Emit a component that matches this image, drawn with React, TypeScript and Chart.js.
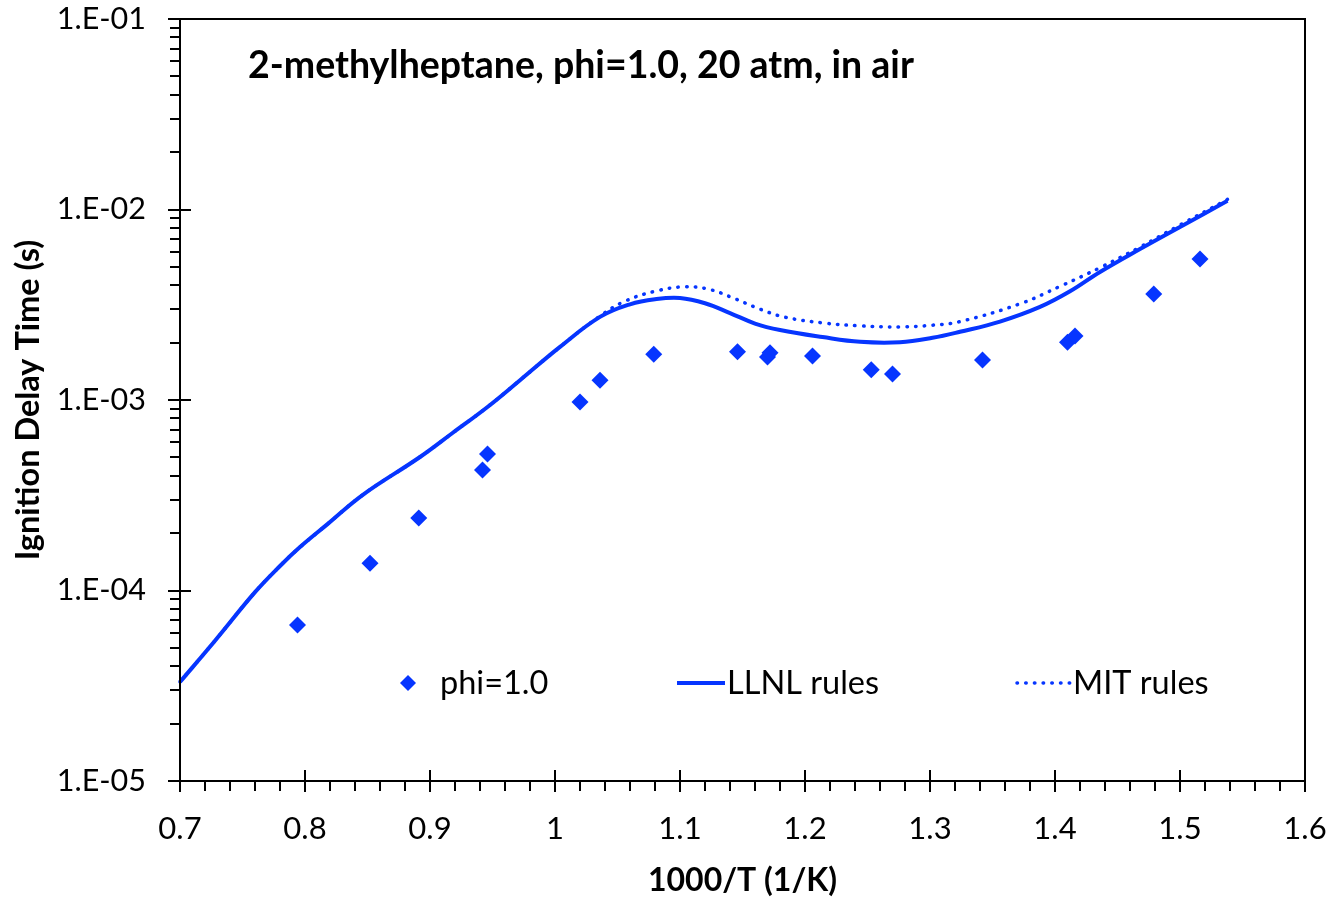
import React, { useEffect, useRef } from 'react';
import { Chart, registerables } from 'chart.js';

Chart.register(...registerables);

// ---------- data ----------
const chartTitle = '2-methylheptane, phi=1.0, 20 atm, in air';
const xAxisTitle = '1000/T (1/K)';
const yAxisTitle = 'Ignition Delay Time (s)';

const expLabel = 'phi=1.0';
const expX = [0.794, 0.852, 0.891, 0.942, 0.946, 1.020, 1.036, 1.079, 1.146, 1.170, 1.172, 1.206, 1.253, 1.270, 1.342, 1.410, 1.416, 1.479, 1.516];
const expY = [6.6e-5, 1.39e-4, 2.40e-4, 4.29e-4, 5.21e-4, 9.77e-4, 1.27e-3, 1.74e-3, 1.79e-3, 1.68e-3, 1.77e-3, 1.70e-3, 1.44e-3, 1.37e-3, 1.62e-3, 2.01e-3, 2.17e-3, 3.60e-3, 5.50e-3];

const llnlLabel = 'LLNL rules';
const llnlX = [0.700, 0.728, 0.760, 0.780, 0.796, 0.818, 0.846, 0.892, 0.918, 0.946, 0.972, 1.004, 1.036, 1.060, 1.080, 1.100, 1.120, 1.140, 1.160, 1.180, 1.214, 1.244, 1.276, 1.302, 1.324, 1.356, 1.388, 1.412, 1.436, 1.468, 1.500, 1.538];
const llnlY = [3.31e-5, 5.45e-5, 9.8e-5, 1.345e-4, 1.69e-4, 2.23e-4, 3.17e-4, 5.02e-4, 6.71e-4, 9.19e-4, 1.27e-3, 1.90e-3, 2.73e-3, 3.18e-3, 3.38e-3, 3.43e-3, 3.22e-3, 2.86e-3, 2.52e-3, 2.33e-3, 2.14e-3, 2.02e-3, 2.01e-3, 2.12e-3, 2.28e-3, 2.58e-3, 3.08e-3, 3.72e-3, 4.70e-3, 6.20e-3, 8.10e-3, 1.11e-2];

const mitLabel = 'MIT rules';
const mitX = [0.700, 0.728, 0.760, 0.780, 0.796, 0.818, 0.846, 0.892, 0.918, 0.946, 0.972, 1.004, 1.036, 1.056, 1.080, 1.104, 1.124, 1.144, 1.164, 1.184, 1.214, 1.244, 1.276, 1.302, 1.324, 1.372, 1.404, 1.436, 1.468, 1.500, 1.538];
const mitY = [3.31e-5, 5.45e-5, 9.8e-5, 1.345e-4, 1.69e-4, 2.23e-4, 3.17e-4, 5.02e-4, 6.71e-4, 9.19e-4, 1.27e-3, 1.90e-3, 2.76e-3, 3.30e-3, 3.72e-3, 3.93e-3, 3.80e-3, 3.40e-3, 3.00e-3, 2.72e-3, 2.54e-3, 2.45e-3, 2.42e-3, 2.47e-3, 2.58e-3, 3.20e-3, 3.95e-3, 4.95e-3, 6.35e-3, 8.29e-3, 1.13e-2];

const xTickValues = [0.7, 0.8, 0.9, 1.0, 1.1, 1.2, 1.3, 1.4, 1.5, 1.6];
const xMinorStep = 0.02;
const yTickValues = [1e-5, 1e-4, 1e-3, 1e-2, 1e-1];
const yMinorMultipliers = [2, 3, 4, 5, 6, 7, 8, 9];

// ---------- style ----------
const BLUE = '#0635FF';
const FONT = "Lato, 'Open Sans', sans-serif";

const toPts = (xs: number[], ys: number[]) => xs.map((x, i) => ({ x, y: ys[i] }));

const decorPlugin = {
  id: 'decor',
  afterDraw(chart: any) {
    const { ctx, chartArea: a, scales } = chart;
    const xs = scales.x;
    const ys = scales.y;
    ctx.save();
    ctx.strokeStyle = '#000';
    ctx.lineWidth = 2;
    // box
    ctx.strokeRect(a.left, a.top, a.right - a.left, a.bottom - a.top);
    // x ticks
    const xMin = xTickValues[0];
    const xMax = xTickValues[xTickValues.length - 1];
    const nMinor = Math.round((xMax - xMin) / xMinorStep);
    ctx.beginPath();
    for (let i = 0; i <= nMinor; i++) {
      const v = xMin + i * xMinorStep;
      const px = Math.round(xs.getPixelForValue(v));
      if (i % 5 === 0) {
        ctx.moveTo(px, a.bottom - 11);
        ctx.lineTo(px, a.bottom + 11);
      } else {
        ctx.moveTo(px, a.bottom);
        ctx.lineTo(px, a.bottom + 10);
      }
    }
    // y ticks
    yTickValues.forEach((v, k) => {
      const py = Math.round(ys.getPixelForValue(v));
      ctx.moveTo(a.left - 12, py);
      ctx.lineTo(a.left + 11, py);
      if (k < yTickValues.length - 1) {
        yMinorMultipliers.forEach((m) => {
          const q = Math.round(ys.getPixelForValue(v * m));
          ctx.moveTo(a.left - 10, q);
          ctx.lineTo(a.left, q);
        });
      }
    });
    ctx.stroke();

    // title
    ctx.fillStyle = '#000';
    ctx.font = `bold 37.5px ${FONT}`;
    ctx.textAlign = 'left';
    ctx.textBaseline = 'alphabetic';
    ctx.fillText(chartTitle, a.left + 68, a.top + 59);

    // legend
    const ds = chart.data.datasets;
    const ly = 683;
    ctx.font = `32.5px ${FONT}`;
    ctx.textBaseline = 'alphabetic';
    const base = ly + 11;
    // markers
    ctx.fillStyle = BLUE;
    ctx.beginPath();
    const r = 8;
    const cx = 408;
    ctx.moveTo(cx - r, ly);
    ctx.lineTo(cx, ly - r);
    ctx.lineTo(cx + r, ly);
    ctx.lineTo(cx, ly + r);
    ctx.closePath();
    ctx.fill();
    ctx.fillStyle = '#000';
    ctx.fillText(ds[0].label, 440, base);

    ctx.strokeStyle = BLUE;
    ctx.lineWidth = 4;
    ctx.beginPath();
    ctx.moveTo(677, ly);
    ctx.lineTo(725, ly);
    ctx.stroke();
    ctx.fillText(ds[1].label, 727, base);

    ctx.lineWidth = 3.5;
    ctx.lineCap = 'round';
    ctx.setLineDash([0.5, 8.2]);
    ctx.beginPath();
    ctx.moveTo(1017, ly);
    ctx.lineTo(1070, ly);
    ctx.stroke();
    ctx.setLineDash([]);
    ctx.fillText(ds[2].label, 1073, base);
    ctx.restore();
  },
};

export default function App() {
  const ref = useRef<HTMLCanvasElement | null>(null);

  useEffect(() => {
    if (!ref.current) return;
    const chart = new Chart(ref.current, {
      type: 'scatter',
      data: {
        datasets: [
          {
            label: expLabel,
            data: toPts(expX, expY),
            pointStyle: 'rectRot',
            pointRadius: 8.5,
            pointBorderWidth: 0,
            backgroundColor: BLUE,
            borderColor: BLUE,
            showLine: false,
            order: 1,
          },
          {
            label: llnlLabel,
            data: toPts(llnlX, llnlY),
            showLine: true,
            pointRadius: 0,
            borderColor: BLUE,
            borderWidth: 4,
            tension: 0.4,
            clip: 4,
            order: 2,
          },
          {
            label: mitLabel,
            data: toPts(mitX, mitY),
            showLine: true,
            pointRadius: 0,
            borderColor: BLUE,
            borderWidth: 3.5,
            borderDash: [0.5, 8.2],
            borderCapStyle: 'round',
            tension: 0.4,
            clip: 4,
            order: 3,
          },
        ] as any,
      },
      options: {
        animation: false,
        responsive: false,
        devicePixelRatio: 1,
        layout: { padding: { left: 0, top: 19, right: 27, bottom: 0 }, autoPadding: false },
        plugins: {
          legend: { display: false },
          tooltip: { enabled: false },
          title: { display: false },
        },
        scales: {
          x: {
            type: 'linear',
            min: xTickValues[0],
            max: xTickValues[xTickValues.length - 1],
            afterBuildTicks: (s: any) => {
              s.ticks = xTickValues.map((v) => ({ value: v }));
            },
            afterFit: (s: any) => {
              s.height = 117;
              s.paddingLeft = 0;
              s.paddingRight = 0;
            },
            grid: { display: false, drawTicks: false },
            border: { display: false },
            ticks: {
              color: '#000',
              font: { family: FONT, size: 31 },
              padding: 29,
              maxRotation: 0,
              autoSkip: false,
              callback: (v: any) => String(Number(Number(v).toFixed(1))),
            },
            title: {
              display: true,
              text: xAxisTitle,
              color: '#000',
              font: { family: FONT, size: 32, weight: 'bold' },
              padding: { top: 0, bottom: -2 },
            },
          },
          y: {
            type: 'logarithmic',
            min: yTickValues[0],
            max: yTickValues[yTickValues.length - 1],
            afterBuildTicks: (s: any) => {
              s.ticks = yTickValues.map((v) => ({ value: v, major: true }));
            },
            afterFit: (s: any) => {
              s.width = 180;
              s.paddingTop = 0;
              s.paddingBottom = 0;
            },
            grid: { display: false, drawTicks: false },
            border: { display: false },
            ticks: {
              color: '#000',
              font: { family: FONT, size: 30.5 },
              padding: 34,
              autoSkip: false,
              callback: (v: any) => {
                const e = Math.round(Math.log10(Number(v)));
                return '1.E-' + String(-e).padStart(2, '0');
              },
            },
            title: {
              display: true,
              text: yAxisTitle,
              color: '#000',
              font: { family: FONT, size: 32.5, weight: 'bold' },
              padding: { top: 9, bottom: 0 },
            },
          },
        },
      } as any,
      plugins: [decorPlugin],
    });
    return () => chart.destroy();
  }, []);

  return (
    <div style={{ position: 'fixed', left: 0, top: 0, width: 1332, height: 898, background: '#fff' }}>
      <canvas ref={ref} width={1332} height={898} style={{ display: 'block' }} />
    </div>
  );
}
